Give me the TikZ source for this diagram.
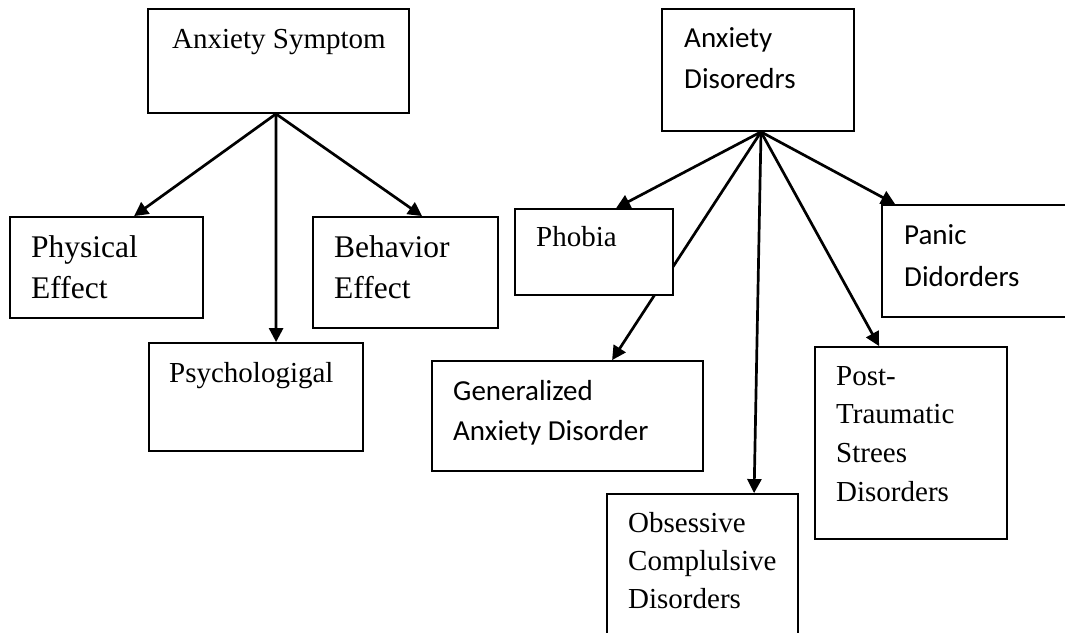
\documentclass[tikz,border=0pt]{standalone}
\usepackage{fontspec}
\setmainfont{Liberation Serif}
\newfontfamily\calfont{Carlito}
\usetikzlibrary{arrows.meta,calc,backgrounds}
\newcommand\boxlines[3][29]{\fontsize{#1}{#2}\selectfont\begin{tabular}[t]{@{}l@{}}#3\end{tabular}}
\begin{document}
\begin{tikzpicture}[x=1pt,y=-1pt,
  box/.style={draw, line width=1.8pt, fill=white, rectangle, inner sep=0pt},
  txt/.style={anchor=base west, inner sep=0pt},
  arr/.style={line width=2.7pt, -{Triangle[length=14pt,width=14pt]}}]

\useasboundingbox (0,0) rectangle (1065,632);
\clip (0,0) rectangle (1065,632);

% boxes
\node[box, minimum width=261pt, minimum height=104pt] (as) at (278.5,61) {};
\node[box, minimum width=193pt, minimum height=101pt] (pe) at (106.5,267.5) {};
\node[box, minimum width=214pt, minimum height=108pt] (ps) at (256,397) {};
\node[box, minimum width=185pt, minimum height=111pt] (be) at (405.5,272.5) {};
\node[box, minimum width=192pt, minimum height=122pt] (ad) at (758,70) {};
\node[box, minimum width=158pt, minimum height=86pt] (ph) at (594,252) {};
\node[box, minimum width=193pt, minimum height=112pt] (pa) at (978.5,261) {};
\node[box, minimum width=271pt, minimum height=110pt] (ga) at (567.5,416) {};
\node[box, minimum width=191pt, minimum height=151pt] (oc) at (702.5,569.5) {};
\node[box, minimum width=192pt, minimum height=192pt] (po) at (911,443) {};

% texts
\node[txt] (asT) at (172,48) {\boxlines{41}{Anxiety Symptom}};
\node[txt] (peT) at (31,257) {\boxlines[31.5]{41}{Physical\\Effect}};
\node[txt] (psT) at (169,382) {\boxlines{41}{Psychologigal}};
\node[txt] (beT) at (334,257) {\boxlines[31.5]{41}{Behavior\\Effect}};
\node[txt] (adT) at (684,47) {\calfont\boxlines{41}{Anxiety\\Disoredrs}};
\node[txt] (phT) at (536,246) {\boxlines{41}{Phobia}};
\node[txt] (paT) at (904,244) {\calfont\boxlines{42}{Panic\\Didorders}};
\node[txt] (gaT) at (453,400) {\calfont\boxlines{40}{Generalized\\Anxiety Disorder}};
\node[txt] (ocT) at (628,532) {\boxlines{38}{Obsessive\\Complulsive\\Disorders}};
\node[txt] (poT) at (836,385) {\boxlines{38.7}{Post-\\Traumatic\\Strees\\Disorders}};

% connectors
\begin{pgfonlayer}{background}
\draw[arr] ($(as.south)+(-2.5,0)$) -- ($(pe.north west)+(125,0)$);
\draw[arr] ($(as.south)+(-2.5,0)$) -- ($(ps.north west)+(128,0)$);
\draw[arr] ($(as.south)+(-2.5,0)$) -- ($(be.north west)+(110,0)$);
\draw[arr] ($(ad.south)+(3,0)$) -- ($(ph.north west)+(102,0)$);
\draw[arr] ($(ad.south)+(3,0)$) -- ($(ga.north west)+(181,0)$);
\draw[arr] ($(ad.south)+(3,0)$) -- ($(oc.north west)+(148,0)$);
\draw[arr] ($(ad.south)+(3,0)$) -- ($(po.north west)+(65,0)$);
\draw[arr] ($(ad.south)+(3,0)$) -- ($(pa.north west)+(14,0)$);
\end{pgfonlayer}
\end{tikzpicture}
\end{document}
